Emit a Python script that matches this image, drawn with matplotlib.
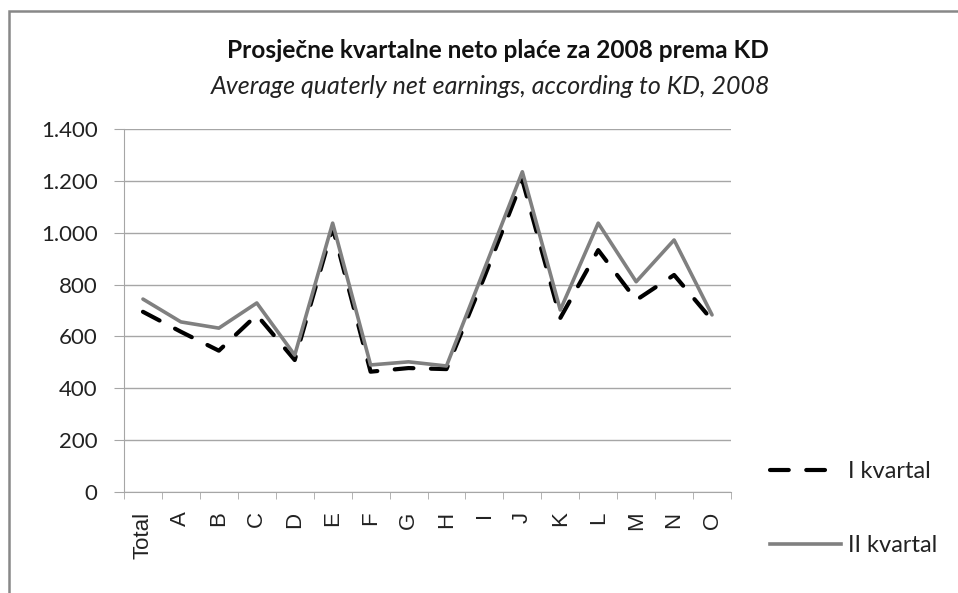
import matplotlib.pyplot as plt
from matplotlib.lines import Line2D
from matplotlib.patches import Rectangle

categories = ["Total", "A", "B", "C", "D", "E", "F", "G", "H",
              "I", "J", "K", "L", "M", "N", "O"]
q1 = [695, 618, 545, 683, 509, 1020, 464, 478, 474,
      830, 1203, 671, 933, 740, 837, 663]
q2 = [744, 656, 632, 729, 528, 1037, 490, 502, 486,
      860, 1235, 702, 1037, 811, 972, 683]
yticks = [0, 200, 400, 600, 800, 1000, 1200, 1400]
ytick_labels = ["0", "200", "400", "600", "800", "1.000", "1.200", "1.400"]

title_font = "Lato"
grid_col = "#a6a6a6"

fig = plt.figure(figsize=(9.58, 5.93), dpi=100)
fig.patches.append(Rectangle((9 / 958, -0.1), 1.2, 1 - 11 / 593 + 0.1,
                             transform=fig.transFigure, fill=False,
                             edgecolor="#888888", linewidth=1.8))

ax = fig.add_axes([124 / 958, 1 - 492 / 593, (731 - 124) / 958, (492 - 129) / 593])

x = list(range(len(categories)))
ax.plot(x, q1, color="black", linewidth=3.0, dashes=(4.5, 4.2),
        dash_capstyle="round", label="I kvartal", zorder=3)
ax.plot(x, q2, color="#808080", linewidth=2.6, solid_capstyle="round",
        label="II kvartal", zorder=4)

ax.set_xlim(-0.5, len(categories) - 0.5)
ax.set_ylim(0, 1400)
ax.set_yticks(yticks)
ax.set_yticklabels(ytick_labels, fontfamily=title_font, fontsize=16, color="#222222")
ax.yaxis.grid(True, color=grid_col, linewidth=1.0)
ax.set_axisbelow(True)

ax.set_xticks(x)
ax.set_xticklabels(categories, rotation=90, fontfamily="Liberation Sans",
                   fontsize=16, color="#222222")
ax.set_xticks([i - 0.5 for i in range(len(categories) + 1)], minor=True)
ax.tick_params(axis="x", which="major", length=0, pad=14)
ax.tick_params(axis="x", which="minor", length=5, color=grid_col, direction="out")
ax.tick_params(axis="y", length=7, color=grid_col, pad=12)

for side in ["top", "right"]:
    ax.spines[side].set_visible(False)
ax.spines["left"].set_color(grid_col)
ax.spines["bottom"].set_color(grid_col)

fig.text(498 / 958, 1 - 50 / 593, "Prosječne kvartalne neto plaće za 2008 prema KD",
         ha="center", va="center", fontfamily=title_font, fontweight="bold",
         fontsize=17.6, color="#111111")
fig.text(491 / 958, 1 - 86 / 593, "Average quaterly net earnings, according to KD, 2008",
         ha="center", va="center", fontfamily=title_font, fontstyle="italic",
         fontsize=18, color="#222222")

handles = [Line2D([], [], color="black", linewidth=3.0, dashes=(4.5, 4.2),
                  dash_capstyle="round"),
           Line2D([], [], color="#808080", linewidth=2.6)]
fig.legend(handles, ["I kvartal", "II kvartal"], loc="upper left",
           bbox_to_anchor=(770 / 958, 1 - 461 / 593), frameon=False,
           prop={"family": title_font, "size": 17}, handlelength=3.0,
           handletextpad=0.3, labelspacing=2.25, labelcolor="#222222",
           borderpad=0, borderaxespad=0)

fig.savefig("out.png", dpi=100)
